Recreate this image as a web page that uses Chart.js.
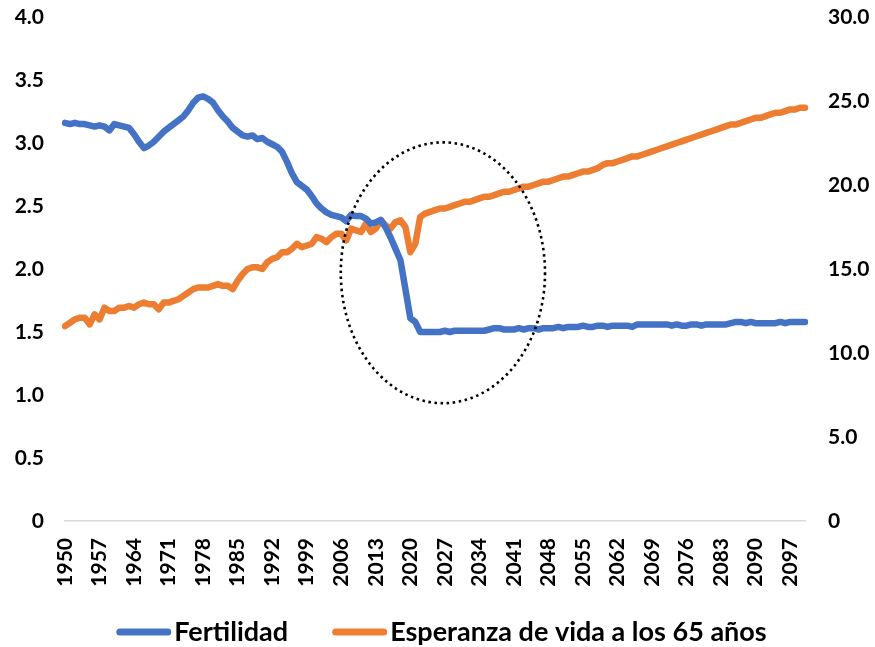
<!DOCTYPE html>
<html>
<head>
<meta charset="utf-8">
<script src="https://cdn.jsdelivr.net/npm/chart.js@4/dist/chart.umd.min.js"></script>
<style>
  html, body { margin: 0; padding: 0; background: #ffffff; }
  #wrap { width: 875px; height: 647px; position: relative; }
</style>
</head>
<body>
<div id="wrap"><canvas id="chart"></canvas></div>
<script>
// años 1950 - 2100
const firstYear = 1950;
const lastYear = 2100;
const years = [];
for (let y = firstYear; y <= lastYear; y++) years.push(String(y));

// Fertilidad (eje izquierdo)
const fertilidad = [
    3.16, 3.15, 3.16, 3.15, 3.15, 3.14, 3.13, 3.14, 3.13, 3.10,
    3.15, 3.14, 3.13, 3.12, 3.07, 3.01, 2.96, 2.98, 3.01, 3.05,
    3.09, 3.12, 3.15, 3.18, 3.21, 3.26, 3.32, 3.36, 3.37, 3.35,
    3.32, 3.26, 3.21, 3.17, 3.12, 3.09, 3.06, 3.05, 3.06, 3.03,
    3.04, 3.01, 2.99, 2.97, 2.93, 2.85, 2.76, 2.69, 2.66, 2.63,
    2.58, 2.52, 2.48, 2.45, 2.43, 2.42, 2.41, 2.38, 2.43, 2.42,
    2.42, 2.40, 2.36, 2.37, 2.39, 2.33, 2.25, 2.16, 2.07, 1.84,
    1.61, 1.58, 1.50, 1.50, 1.50, 1.50, 1.50, 1.51, 1.50, 1.51,
    1.51, 1.51, 1.51, 1.51, 1.51, 1.51, 1.52, 1.53, 1.53, 1.52,
    1.52, 1.52, 1.53, 1.52, 1.53, 1.53, 1.52, 1.53, 1.53, 1.53,
    1.54, 1.53, 1.54, 1.54, 1.54, 1.55, 1.54, 1.54, 1.55, 1.55,
    1.54, 1.55, 1.55, 1.55, 1.55, 1.54, 1.56, 1.56, 1.56, 1.56,
    1.56, 1.56, 1.56, 1.55, 1.56, 1.55, 1.55, 1.56, 1.56, 1.55,
    1.56, 1.56, 1.56, 1.56, 1.56, 1.57, 1.58, 1.58, 1.57, 1.58,
    1.57, 1.57, 1.57, 1.57, 1.57, 1.58, 1.57, 1.58, 1.58, 1.58,
    1.58
];

// Esperanza de vida a los 65 años (eje derecho)
const esperanza65 = [
    11.6, 11.8, 12.0, 12.1, 12.1, 11.7, 12.3, 12.0, 12.7, 12.5,
    12.5, 12.7, 12.7, 12.8, 12.7, 12.9, 13.0, 12.9, 12.9, 12.6,
    13.0, 13.0, 13.1, 13.2, 13.4, 13.6, 13.8, 13.9, 13.9, 13.9,
    14.0, 14.1, 14.0, 14.0, 13.8, 14.3, 14.7, 15.0, 15.1, 15.1,
    15.0, 15.4, 15.6, 15.7, 16.0, 16.0, 16.2, 16.5, 16.3, 16.4,
    16.5, 16.9, 16.8, 16.6, 16.9, 17.1, 17.1, 16.7, 17.4, 17.3,
    17.2, 17.7, 17.2, 17.4, 17.9, 17.6, 17.4, 17.8, 17.9, 17.5,
    16.0, 16.5, 18.1, 18.3, 18.4, 18.5, 18.6, 18.6, 18.7, 18.8,
    18.9, 19.0, 19.0, 19.1, 19.2, 19.3, 19.3, 19.4, 19.5, 19.6,
    19.6, 19.7, 19.8, 19.9, 19.9, 20.0, 20.1, 20.2, 20.2, 20.3,
    20.4, 20.5, 20.5, 20.6, 20.7, 20.8, 20.8, 20.9, 21.0, 21.2,
    21.3, 21.3, 21.4, 21.5, 21.6, 21.7, 21.7, 21.8, 21.9, 22.0,
    22.1, 22.2, 22.3, 22.4, 22.5, 22.6, 22.7, 22.8, 22.9, 23.0,
    23.1, 23.2, 23.3, 23.4, 23.5, 23.6, 23.6, 23.7, 23.8, 23.9,
    24.0, 24.0, 24.1, 24.2, 24.3, 24.3, 24.4, 24.5, 24.5, 24.6,
    24.6
];

const leftTicks = [0, 0.5, 1.0, 1.5, 2.0, 2.5, 3.0, 3.5, 4.0];
const rightTicks = [0, 5, 10, 15, 20, 25, 30];
const labelEvery = 7;

const FONT = 'Lato, "DejaVu Sans", sans-serif';

// elipse punteada alrededor del cambio 2020 (en unidades de los ejes)
const dottedEllipse = { year: 2026.6, value: 1.97, halfYears: 20.7, halfValue: 1.035 };

const ellipsePlugin = {
    id: 'dottedEllipse',
    afterDatasetsDraw(chart) {
        const xs = chart.scales.x, ys = chart.scales.y;
        const i0 = dottedEllipse.year - firstYear;
        const cx = xs.getPixelForValue(i0);
        const cy = ys.getPixelForValue(dottedEllipse.value);
        const rx = xs.getPixelForValue(i0 + dottedEllipse.halfYears) - cx;
        const ry = cy - ys.getPixelForValue(dottedEllipse.value + dottedEllipse.halfValue);
        const ctx = chart.ctx;
        ctx.save();
        ctx.beginPath();
        ctx.ellipse(cx, cy, rx, ry, 0, 0, Math.PI * 2);
        ctx.setLineDash([2.5, 3.6]);
        ctx.lineWidth = 2.6;
        ctx.strokeStyle = '#000000';
        ctx.stroke();
        ctx.restore();
    }
};

// leyenda inferior estilo Excel (muestra de línea pegada al texto)
const legendPlugin = {
    id: 'bottomLegend',
    afterDraw(chart) {
        const ctx = chart.ctx;
        const sets = chart.data.datasets;
        const sample = 55, gap = 3, itemGap = 44;
        ctx.save();
        ctx.font = 'bold 27px ' + FONT;
        let total = 0;
        sets.forEach((ds, i) => {
            total += sample + gap + ctx.measureText(ds.label).width;
            if (i < sets.length - 1) total += itemGap;
        });
        let x = (chart.width - total) / 2 + 4;
        const y = 632;
        sets.forEach(ds => {
            ctx.beginPath();
            ctx.lineCap = 'round';
            ctx.lineWidth = 7;
            ctx.strokeStyle = ds.borderColor;
            ctx.moveTo(x + 3.5, y);
            ctx.lineTo(x + sample - 3.5, y);
            ctx.stroke();
            x += sample + gap;
            ctx.fillStyle = '#000000';
            ctx.textAlign = 'left';
            ctx.textBaseline = 'middle';
            ctx.fillText(ds.label, x, y);
            x += ctx.measureText(ds.label).width + itemGap;
        });
        ctx.restore();
    }
};

const tickFont = { family: FONT, size: 21, weight: 'bold' };

function noVerticalPadding(scale) {
    scale.paddingTop = 0;
    scale.paddingBottom = 0;
}

new Chart(document.getElementById('chart'), {
    type: 'line',
    data: {
        labels: years,
        datasets: [{
            label: 'Fertilidad',
            data: fertilidad,
            yAxisID: 'y',
            borderColor: '#4472C4',
            borderWidth: 6.5,
            pointRadius: 0,
            tension: 0,
            borderJoinStyle: 'round',
            borderCapStyle: 'round'
        }, {
            label: 'Esperanza de vida a los 65 años',
            data: esperanza65,
            yAxisID: 'y2',
            borderColor: '#ED7D31',
            borderWidth: 6.5,
            pointRadius: 0,
            tension: 0,
            borderJoinStyle: 'round',
            borderCapStyle: 'round'
        }]
    },
    options: {
        responsive: true,
        maintainAspectRatio: false,
        animation: false,
        layout: { padding: { top: 17, bottom: 60, left: 0, right: 0 } },
        plugins: {
            legend: { display: false },
            tooltip: { enabled: false }
        },
        scales: {
            x: {
                offset: false,
                grid: { display: false, drawTicks: false },
                border: { display: true, color: '#d9d9d9', width: 1.5 },
                ticks: {
                    autoSkip: false,
                    minRotation: 90,
                    maxRotation: 90,
                    padding: 17,
                    color: '#000000',
                    font: tickFont,
                    callback: function(value, index) {
                        return index % labelEvery === 0 ? years[index] : '';
                    }
                },
                afterFit: function(scale) {
                    scale.height = 66;
                    scale.paddingLeft = 0;
                    scale.paddingRight = 0;
                }
            },
            y: {
                position: 'left',
                min: 0,
                max: 4,
                grid: { display: false, drawTicks: false },
                border: { display: false },
                afterBuildTicks: function(scale) {
                    scale.ticks = leftTicks.map(v => ({ value: v }));
                },
                ticks: {
                    padding: 21,
                    color: '#000000',
                    font: tickFont,
                    callback: v => v === 0 ? '0' : v.toFixed(1)
                },
                afterFit: function(scale) {
                    scale.width = 65;
                    noVerticalPadding(scale);
                }
            },
            y2: {
                position: 'right',
                min: 0,
                max: 30,
                grid: { display: false, drawTicks: false },
                border: { display: false },
                afterBuildTicks: function(scale) {
                    scale.ticks = rightTicks.map(v => ({ value: v }));
                },
                ticks: {
                    padding: 23,
                    color: '#000000',
                    font: tickFont,
                    callback: v => v === 0 ? '0' : v.toFixed(1)
                },
                afterFit: function(scale) {
                    scale.width = 70;
                    noVerticalPadding(scale);
                }
            }
        }
    },
    plugins: [ellipsePlugin, legendPlugin]
});
</script>
</body>
</html>
